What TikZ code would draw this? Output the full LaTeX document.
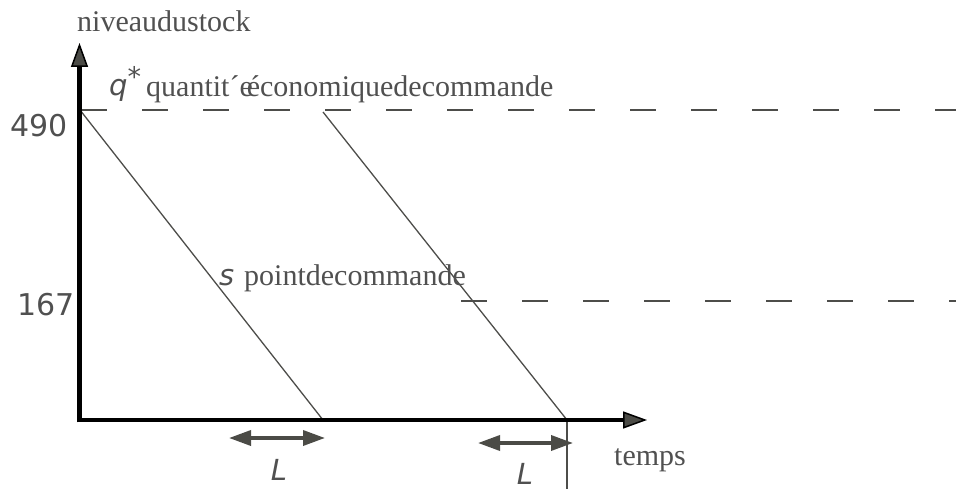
\documentclass[tikz,border=0pt]{standalone}
\usepackage{fontspec}
\setmainfont{Liberation Serif}
\newfontfamily\dvs{DejaVu Sans}
\newfontfamily\dvi{DejaVu Sans Oblique}
\usetikzlibrary{arrows.meta}
\definecolor{txtgray}{RGB}{80,80,80}
\definecolor{lngray}{RGB}{77,77,74}
\definecolor{arrfill}{RGB}{75,75,70}
\tikzset{
  axisline/.style={line width=4.5pt, black, -{Triangle[length=24pt,width=17pt,line width=1.5pt,fill=arrfill]}},
  curve/.style={line width=1.3pt, lngray},
  dashline/.style={line width=2pt, lngray, dash pattern=on 26pt off 35pt},
  duration/.style={line width=3.5pt, arrfill, {Triangle[length=22pt,width=15pt]}-{Triangle[length=22pt,width=15pt]}},
  serif/.style={text=txtgray, inner sep=0pt, font=\fontsize{30}{36}\selectfont},
  sanslbl/.style={text=txtgray, inner sep=0pt, font=\dvs\fontsize{30}{34}\selectfont},
  italbl/.style={text=txtgray, inner sep=0pt, font=\dvi\fontsize{29}{34}\selectfont}
}
\begin{document}
\begin{tikzpicture}[x=1pt,y=-1pt]
\useasboundingbox (0,0) rectangle (956,489);
% coordinates
\coordinate (Ytip) at (79.5,43);
\coordinate (Xstart) at (77.25,420);
\coordinate (Xtip) at (647,420);
\coordinate (Ystart) at (79.5,422.25);
\coordinate (Q1) at (80,110);
\coordinate (Z1) at (323,420);
\coordinate (Q2) at (323,112);
\coordinate (Z2) at (567,420);
\coordinate (Vb) at (567,489);
\coordinate (D1a) at (81,110.5);
\coordinate (D1b) at (956,110.5);
\coordinate (D2a) at (461,300.5);
\coordinate (D2b) at (956,300.5);
\coordinate (A1a) at (229,438);
\coordinate (A1b) at (325,438);
\coordinate (A2a) at (478,443);
\coordinate (A2b) at (573,443);
% dashed levels
\draw[dashline] (D1a) -- (D1b);
\draw[dashline] (D2a) -- (D2b);
% stock curves
\draw[curve] (Q1) -- (Z1);
\draw[curve] (Q2) -- (Z2);
\draw[curve] (Z2) -- (Vb);
% axes
\draw[axisline] (Ystart) -- (Ytip);
\draw[axisline] (Xstart) -- (Xtip);
% lead times
\draw[duration] (A1a) -- (A1b);
\draw[duration] (A2a) -- (A2b);
% labels
\node[serif, anchor=base west] (ylab) at (77,31.7) {niveaudustock};
\node[italbl, anchor=base west] (qsym) at (109,95.5) {q\raisebox{9pt}{\dvs\fontsize{27}{27}\selectfont *}};
\node[serif, anchor=base west] (qlab) at (146,96.5) {quantit´e\kern-6pt économiquedecommande};
\node[sanslbl, anchor=base east] (v490) at (68,137) {490};
\node[sanslbl, anchor=base east] (v167) at (75,315) {167};
\node[italbl, anchor=base west] (ssym) at (219,285) {s};
\node[serif, anchor=base west] (slab) at (244,285) {pointdecommande};
\node[italbl, anchor=base] (L1) at (279,480) {L};
\node[italbl, anchor=base] (L2) at (525,484) {L};
\node[serif, anchor=base west] (xlab) at (614,465) {temps};
\end{tikzpicture}
\end{document}
